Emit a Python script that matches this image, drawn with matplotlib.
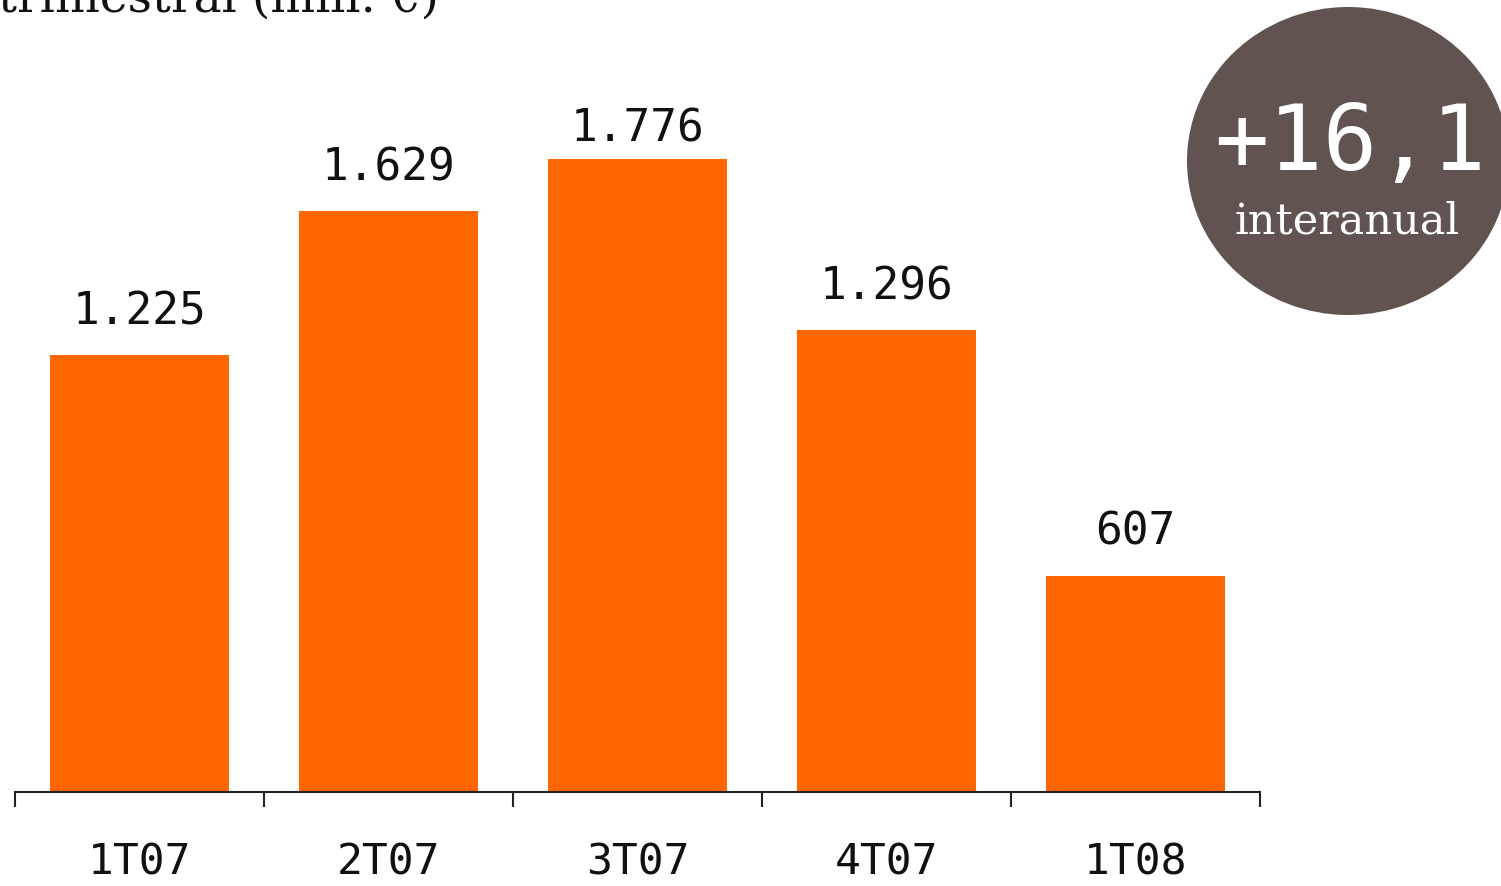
import matplotlib
matplotlib.use("Agg")
import matplotlib.pyplot as plt
from matplotlib.patches import Ellipse
import numpy as np

categories = ["1T07", "2T07", "3T07", "4T07", "1T08"]
values = [1225, 1629, 1776, 1296, 607]
value_labels = ["1.225", "1.629", "1.776", "1.296", "607"]
title_text = "trimestral (mill. €)"
badge_value = "+16,1"
badge_sub = "interanual"

W, H = 1501, 887
fig = plt.figure(figsize=(W / 100, H / 100), dpi=100)
ax_bottom_px = 793
ax = fig.add_axes([15 / W, (H - ax_bottom_px) / H, (1260 - 15) / W, ax_bottom_px / H])

x = np.arange(len(categories))
ax.bar(x, values, width=0.72, color="#FF6600", zorder=2)
ax.set_xlim(-0.5, len(categories) - 0.5)
ymax = 2225
ax.set_ylim(0, ymax)

for s in ["left", "right", "top"]:
    ax.spines[s].set_visible(False)
ax.spines["bottom"].set_linewidth(1.5)
ax.spines["bottom"].set_color("#222222")
ax.set_yticks([])

ax.set_xticks(x)
ax.set_xticklabels(categories, family="DejaVu Sans Mono", fontsize=31, color="#111111")
ax.tick_params(axis="x", which="major", length=0, pad=35)
ax.set_xticks(np.arange(-0.5, len(categories)), minor=True)
ax.tick_params(axis="x", which="minor", length=11, width=1.5, color="#222222", direction="out")

# value labels above bars (baseline ~32 px above bar top, kept below the top margin)
px_per_unit = ax_bottom_px / ymax
top_limit = (ax_bottom_px - 141) / px_per_unit
for xi, v, lab in zip(x, values, value_labels):
    y_lab = min(v + 32 / px_per_unit, top_limit)
    ax.text(xi, y_lab, lab, ha="center", va="baseline", family="DejaVu Sans Mono",
            fontsize=32, color="#111111")

# title (partly cut at top, as in the source)
fig.text(-2 / W, 1 - 12 / H, title_text, ha="left", va="baseline",
         family="DejaVu Serif", fontsize=34, color="#111111")

# badge
ell = Ellipse((1348 / W, 1 - 162 / H), 322 / W, 308 / H, transform=fig.transFigure,
              facecolor="#615350", edgecolor="none", zorder=5)
fig.patches.append(ell)
fig.text(1350 / W, 1 - 170 / H, badge_value, ha="center", va="baseline",
         family="DejaVu Sans Mono", fontsize=65, color="white", zorder=6)
fig.text(1347 / W, 1 - 233 / H, badge_sub, ha="center", va="baseline",
         family="DejaVu Serif", fontsize=31, color="white", zorder=6)

fig.savefig("out.png", dpi=100)
